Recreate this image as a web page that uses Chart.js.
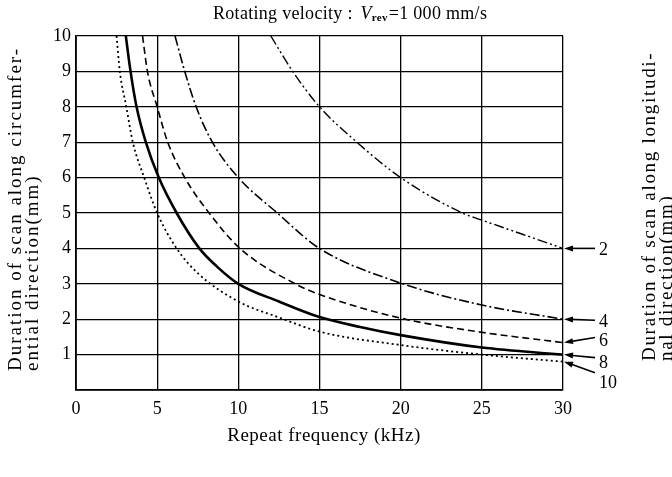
<!DOCTYPE html>
<html><head><meta charset="utf-8">
<script src="https://cdn.jsdelivr.net/npm/chart.js@4/dist/chart.umd.min.js"></script>
<style>html,body{margin:0;padding:0;background:#fff;}canvas{display:block;}</style>
</head><body>
<canvas id="c" width="672" height="477"></canvas>
<script>
// Repeat frequency (kHz) vs duration of scan along circumferential direction (mm)
const freq2 = [12.0, 13.35, 15, 17.3, 20, 23.8, 25, 27.5, 30];
const dur2  = [10, 9, 8, 7, 6, 5, 4.8, 4.4, 4.0];
const freq4 = [6.1, 6.7, 7.4, 8.4, 10, 12.4, 15, 20, 25, 30];
const dur4  = [10, 9, 8, 7, 6, 5, 4, 3.02, 2.4, 2.0];
const freq6 = [4.1, 4.4, 5.0, 5.65, 6.7, 8.2, 10.1, 13.5, 15, 20, 25, 30];
const dur6  = [10, 9, 8, 7, 6, 5, 4, 3, 2.7, 2.03, 1.63, 1.34];
const freq8 = [3.07, 3.36, 3.73, 4.3, 5.1, 6.2, 7.6, 8.65, 10, 12.5, 15, 17.5, 20, 25, 30];
const dur8  = [10, 9, 8, 7, 6, 5, 4, 3.5, 3.0, 2.5, 2.06, 1.78, 1.55, 1.2, 1.0];
const freq10 = [2.5, 2.7, 3.1, 3.5, 4.2, 5.0, 6.2, 7.5, 10, 12.5, 15, 20, 25, 30];
const dur10  = [10, 9, 8, 7, 6, 5, 4, 3.3, 2.5, 2.05, 1.65, 1.27, 1.0, 0.8];
const seriesLabels = ['2', '4', '6', '8', '10'];
const xTicks = [0, 5, 10, 15, 20, 25, 30];
const yTicks = [1, 2, 3, 4, 5, 6, 7, 8, 9, 10];

const FONT = "'Liberation Serif', 'DejaVu Serif', serif";
const pts = (xs, ys) => xs.map((x, i) => ({x: x, y: ys[i]}));

const mk = (label, xs, ys, dash, w) => ({
  label: label, data: pts(xs, ys), borderColor: '#000', backgroundColor: '#000',
  borderWidth: w, borderDash: dash, pointRadius: 0, fill: false,
  cubicInterpolationMode: 'monotone'
});

const decor = {
  id: 'decor',
  beforeDraw(chart) {
    const c = chart.ctx;
    c.save(); c.fillStyle = '#fff'; c.fillRect(0, 0, chart.width, chart.height); c.restore();
  },
  afterDraw(chart) {
    const c = chart.ctx;
    c.save();
    c.fillStyle = '#000'; c.strokeStyle = '#000';
    // Title
    c.textBaseline = 'alphabetic';
    c.letterSpacing = '0.3px';
    c.font = "18px " + FONT;
    let x = 213, yb = 19;
    const t1 = 'Rotating velocity : ';
    c.textAlign = 'left';
    c.fillText(t1, x, yb); x += c.measureText(t1).width + 3;
    c.font = "italic 18px " + FONT; c.fillText('V', x, yb); x += c.measureText('V').width;
    c.font = "bold 11px " + FONT; c.fillText('rev', x, yb + 2); x += c.measureText('rev').width + 1;
    c.font = "18px " + FONT; c.fillText('=1 000 mm/s', x, yb);

    // x axis title
    c.letterSpacing = '0.5px';
    c.font = "19px " + FONT;
    c.textAlign = 'center'; c.textBaseline = 'middle';
    c.fillText('Repeat frequency (kHz)', 324, 436);

    // left axis title (rotated)
    c.save();
    c.rotate(-Math.PI / 2);
    c.textAlign = 'left'; c.textBaseline = 'middle';
    c.font = "19px " + FONT;
    c.letterSpacing = '2px';
    c.fillText('Duration of scan along circumfer-', -371, 16);
    c.fillText('ential direction(mm)', -371, 33);
    // right axis title
    c.letterSpacing = '1.7px';
    c.fillText('Duration of scan along longitudi-', -361, 650);
    c.fillText('nal direction(mm)', -361, 667);
    c.restore();
    c.letterSpacing = '0px';

    // arrows and labels at right
    const offs = [
      {sx: 595, sy: 0, lx: 599, ly: 2},
      {sx: 595, sy: 1, lx: 599, ly: 3},
      {sx: 595, sy: -5, lx: 599, ly: -1},
      {sx: 595, sy: 3, lx: 599, ly: 9},
      {sx: 595, sy: 11, lx: 599, ly: 22}
    ];
    c.font = "18px " + FONT;
    c.textAlign = 'left'; c.textBaseline = 'middle';
    chart.data.datasets.forEach((ds, i) => {
      const meta = chart.getDatasetMeta(i);
      const p = meta.data[meta.data.length - 1];
      const tx = p.x + 1, ty = p.y;
      const o = offs[i];
      const sx = o.sx, sy = ty + o.sy;
      c.lineWidth = 1.6; c.setLineDash([]);
      c.beginPath(); c.moveTo(sx, sy); c.lineTo(tx + 6, ty + (sy - ty) * 6 / (sx - tx)); c.stroke();
      const ang = Math.atan2(sy - ty, sx - tx);
      c.beginPath();
      c.moveTo(tx, ty);
      c.lineTo(tx + 9 * Math.cos(ang) - 3 * Math.sin(ang), ty + 9 * Math.sin(ang) + 3 * Math.cos(ang));
      c.lineTo(tx + 9 * Math.cos(ang) + 3 * Math.sin(ang), ty + 9 * Math.sin(ang) - 3 * Math.cos(ang));
      c.closePath(); c.fill();
      c.fillText(seriesLabels[i], o.lx, ty + o.ly);
    });
    c.restore();
  }
};

new Chart(document.getElementById('c'), {
  type: 'line',
  data: {
    datasets: [
      mk('2', freq2, dur2, [10, 3, 2, 3, 2, 3], 1.4),
      mk('4', freq4, dur4, [10, 3, 2, 3], 1.6),
      mk('6', freq6, dur6, [7, 4], 1.6),
      mk('8', freq8, dur8, [], 2.6),
      mk('10', freq10, dur10, [2, 3], 1.8)
    ]
  },
  options: {
    responsive: false, animation: false,
    layout: {padding: {left: 0, right: 109, top: 36, bottom: 0}},
    plugins: {legend: {display: false}, tooltip: {enabled: false}, title: {display: false}},
    scales: {
      x: {
        type: 'linear', min: 0, max: 30,
        afterBuildTicks(s) { s.ticks = xTicks.map(v => ({value: v})); },
        ticks: {color: '#000', font: {family: FONT, size: 18}, padding: 8, maxRotation: 0, autoSkip: false},
        grid: {color: '#000', lineWidth: 1.3, drawTicks: false},
        border: {color: '#000', width: 1.8},
        afterFit(s) { s.height = 87; }
      },
      y: {
        type: 'linear', min: 0, max: 10,
        afterBuildTicks(s) { s.ticks = [0].concat(yTicks).map(v => ({value: v})); },
        ticks: {color: '#000', font: {family: FONT, size: 18}, padding: 5, autoSkip: false,
          callback: v => (v === 0 ? '' : String(v))},
        grid: {color: '#000', lineWidth: 1.3, drawTicks: false},
        border: {color: '#000', width: 1.8},
        afterFit(s) { s.width = 76; }
      }
    }
  },
  plugins: [decor]
});
</script>
</body></html>
